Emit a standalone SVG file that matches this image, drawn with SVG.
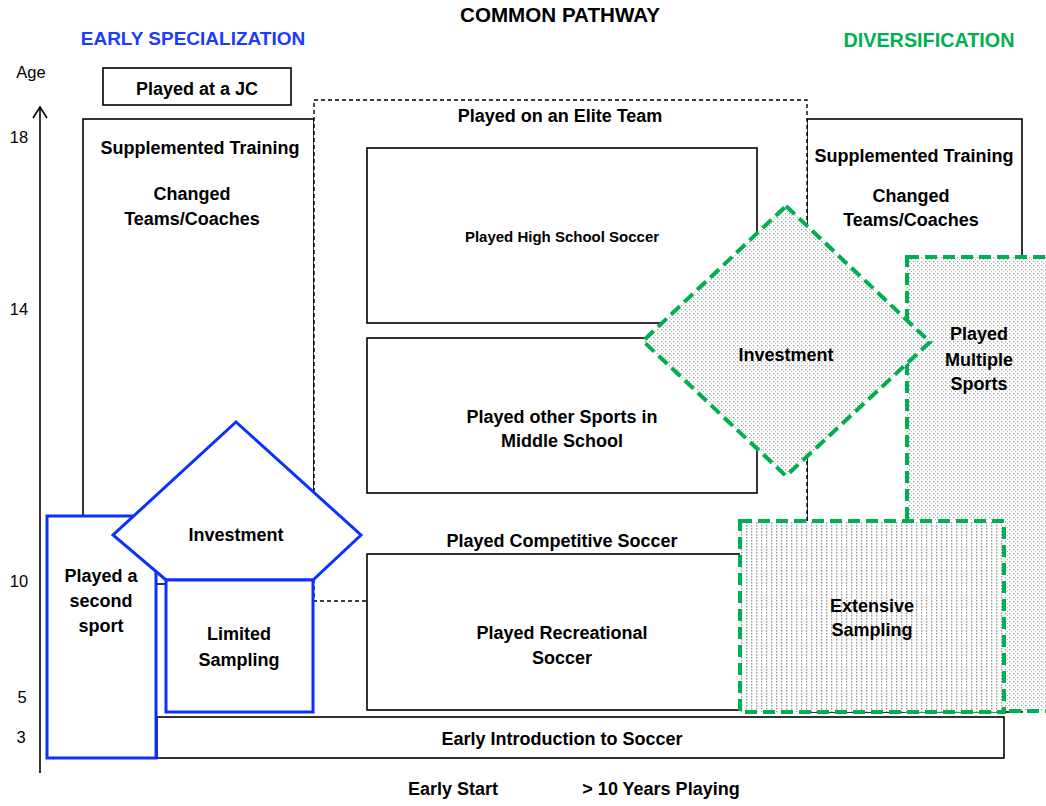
<svg xmlns="http://www.w3.org/2000/svg" width="1046" height="806" viewBox="0 0 1046 806">
<style>
text{font-family:"Liberation Sans",Arial,sans-serif;font-weight:bold;fill:#000;text-anchor:middle}
.lbl{font-size:18px}
.sm{font-size:15px}
.age{font-size:16.5px;font-weight:normal}
.box{fill:#fff;stroke:#000;stroke-width:1.6}
.dash{fill:#fff;stroke:#000;stroke-width:1.4;stroke-dasharray:4 3}
.blue{fill:#fff;stroke:#0a32ff;stroke-width:3}
.green{stroke:#00b050;stroke-width:4;stroke-dasharray:12 6}
.axis{fill:none;stroke:#000;stroke-width:1.6}
</style>
<defs>
<pattern id="dots" width="4" height="4" patternUnits="userSpaceOnUse">
<rect width="4" height="4" fill="#fff"/>
<rect x="1" y="1" width="1.3" height="1.3" fill="#9a9a9a"/>
<rect x="3" y="3" width="1.3" height="1.3" fill="#b5b5b5"/>
</pattern>
<pattern id="vdots" width="5" height="3" patternUnits="userSpaceOnUse">
<rect width="5" height="3" fill="#fff"/>
<rect x="1" y="0" width="1.3" height="1.6" fill="#9a9a9a"/>
</pattern>
</defs>

<g id="axis">
<line class="axis" x1="40" y1="773" x2="40" y2="108"/>
<polyline class="axis" points="33,118 40,107 47,118"/>
<text class="age" x="31" y="78">Age</text>
<text class="age" x="19" y="143">18</text>
<text class="age" x="19" y="315">14</text>
<text class="age" x="19" y="587">10</text>
<text class="age" x="22" y="703">5</text>
<text class="age" x="21" y="743">3</text>
</g>

<g id="titles">
<text x="560" y="22" style="font-size:20.6px">COMMON PATHWAY</text>
<text x="193" y="45" style="font-size:19px;fill:#1a3cff">EARLY SPECIALIZATION</text>
<text x="929" y="47" style="font-size:19.8px;fill:#00b050">DIVERSIFICATION</text>
<text class="lbl" x="453" y="795">Early Start</text>
<text class="lbl" x="661" y="795">&gt; 10 Years Playing</text>
</g>

<g id="jc">
<rect class="box" x="103" y="68" width="188" height="37"/>
<text class="lbl" x="197" y="95">Played at a JC</text>
</g>

<g id="left-training">
<rect class="box" x="83" y="119" width="231" height="465"/>
<text class="lbl" x="200" y="154">Supplemented Training</text>
<text class="lbl" x="192" y="200">Changed</text>
<text class="lbl" x="192" y="225">Teams/Coaches</text>
</g>

<g id="right-training">
<rect class="box" x="807" y="119" width="215" height="593"/>
<text class="lbl" x="914" y="162">Supplemented Training</text>
<text class="lbl" x="911" y="202">Changed</text>
<text class="lbl" x="911" y="226">Teams/Coaches</text>
</g>

<g id="elite">
<rect class="dash" x="314" y="100" width="493" height="501"/>
<text class="lbl" x="560" y="122">Played on an Elite Team</text>
<text class="lbl" x="562" y="547">Played Competitive Soccer</text>
</g>

<g id="highschool">
<rect class="box" x="367" y="148" width="390" height="175"/>
<text class="sm" x="562" y="242">Played High School Soccer</text>
</g>

<g id="middleschool">
<rect class="box" x="367" y="338" width="390" height="155"/>
<text class="lbl" x="562" y="423">Played other Sports in</text>
<text class="lbl" x="562" y="447">Middle School</text>
</g>

<g id="recreational">
<rect class="box" x="367" y="554" width="390" height="156"/>
<text class="lbl" x="562" y="639">Played Recreational</text>
<text class="lbl" x="562" y="664">Soccer</text>
</g>

<g id="multiple-sports">
<rect class="green" fill="url(#dots)" x="907" y="257" width="145" height="454"/>
<text class="lbl" x="979" y="340">Played</text>
<text class="lbl" x="979" y="366">Multiple</text>
<text class="lbl" x="979" y="390">Sports</text>
</g>

<g id="investment-div">
<polygon class="green" fill="url(#dots)" points="786,206 930,342 786,476 643,341"/>
<text class="lbl" x="786" y="361">Investment</text>
</g>

<g id="extensive">
<rect class="green" fill="url(#vdots)" x="740" y="521" width="264" height="191"/>
<text class="lbl" x="872" y="612">Extensive</text>
<text class="lbl" x="872" y="636">Sampling</text>
</g>

<g id="early-intro">
<rect class="box" x="157" y="717" width="847" height="41"/>
<text class="lbl" x="562" y="745">Early Introduction to Soccer</text>
</g>

<g id="second-sport">
<rect class="blue" x="47" y="516" width="109" height="242"/>
<text class="lbl" x="101" y="582">Played a</text>
<text class="lbl" x="101" y="607">second</text>
<text class="lbl" x="101" y="632">sport</text>
</g>

<g id="investment-spec">
<polygon class="blue" points="236,422 361,535 313,580 166,580 113,535"/>
<text class="lbl" x="236" y="541">Investment</text>
</g>

<g id="limited">
<rect class="blue" x="166" y="580" width="147" height="132"/>
<text class="lbl" x="239" y="640">Limited</text>
<text class="lbl" x="239" y="666">Sampling</text>
</g>

<g id="connectors"></g>
</svg>
